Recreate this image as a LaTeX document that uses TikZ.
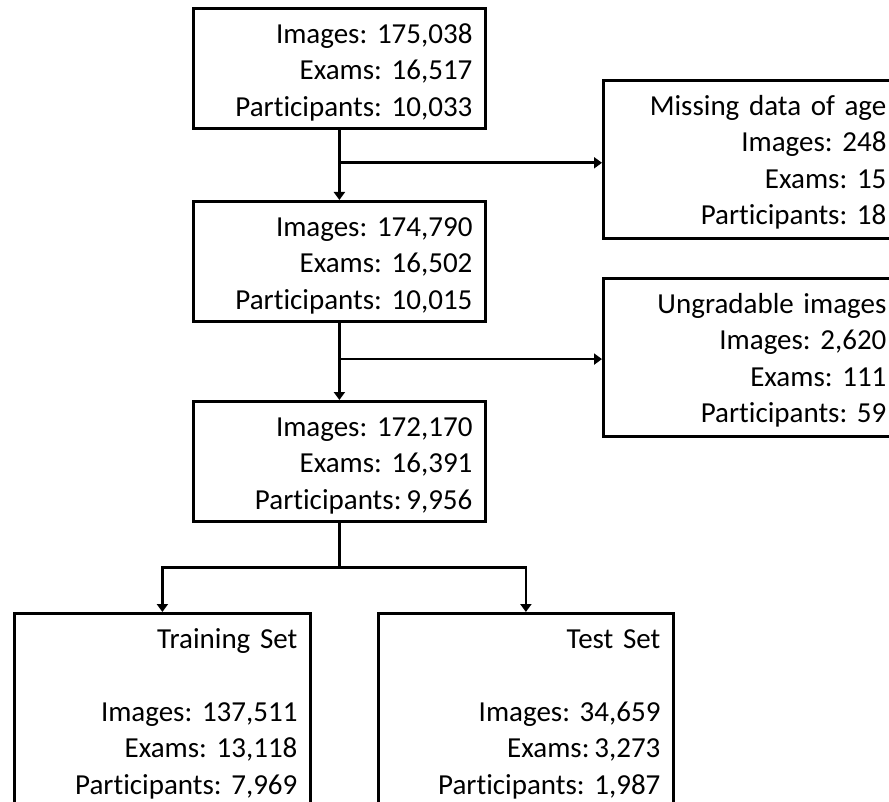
\documentclass[tikz,border=0pt]{standalone}
\usepackage{fontspec}
\setmainfont{Carlito}[Ligatures=NoCommon]
\usetikzlibrary{arrows.meta,calc}
\frenchspacing

\begin{document}
\begin{tikzpicture}[x=1pt,y=-1pt,font=\fontsize{29}{36.5}\selectfont,
    box/.style={draw,line width=2.8pt,anchor=north west,align=right,
        inner xsep=13pt,inner ysep=0pt,text height=35pt},
    mainbox/.style={box,text width=266pt,text depth=85pt},
    sidebox/.style={box,text width=270pt,text depth=123pt},
    splitbox/.style={box,text depth=160pt},
    line/.style={line width=2.8pt},
    flow/.style={line,-{Triangle[width=11pt,length=8pt]}}]
%The page is the size of the picture, anything past it is cut off
\useasboundingbox (0,0) rectangle (889,802);
\clip (0,0) rectangle (889,802);
%Main column, one box below the other
\node[mainbox] (all) at (192,7)
    {Images: 175,038\\Exams: 16,517\\Participants: 10,033};
\node[mainbox] (aged) at (192,200)
    {Images: 174,790\\Exams: 16,502\\Participants: 10,015};
\node[mainbox] (graded) at (192,400)
    {Images: 172,170\\Exams: 16,391\\Participants:\,9,956};
%Excluded data on the right
\node[sidebox] (missing) at (602,79)
    {Missing data of age\\Images: 248\\Exams: 15\\Participants: 18};
\node[sidebox] (ungradable) at (602,277)
    {Ungradable images\\Images: 2,620\\Exams: 111\\Participants: 59};
%The two sets at the bottom
\node[splitbox,text width=270pt] (train) at (13,612)
    {Training Set\\[36.5pt]Images: 137,511\\Exams: 13,118\\Participants: 7,969};
\node[splitbox,text width=269pt] (test) at (377,612)
    {Test Set\\[36.5pt]Images: 34,659\\Exams:\,3,273\\Participants: 1,987};
%Now the connectors, using the names given above
\draw[flow] (all) -- (aged);
\coordinate (cut1) at ($(all.south)!0.47!(aged.north)$);
\draw[flow] (cut1) -- (cut1 -| missing.west);
\draw[flow] (aged) -- (graded);
\coordinate (cut2) at ($(aged.south)!0.47!(graded.north)$);
\draw[flow] (cut2) -- (cut2 -| ungradable.west);
\coordinate (split) at ($(graded.south)+(0,45)$);
\draw[line] (graded) -- (split);
\draw[flow] (split) -| (train.north);
\draw[flow] (split) -| (test.north);
\end{tikzpicture}
\end{document}
